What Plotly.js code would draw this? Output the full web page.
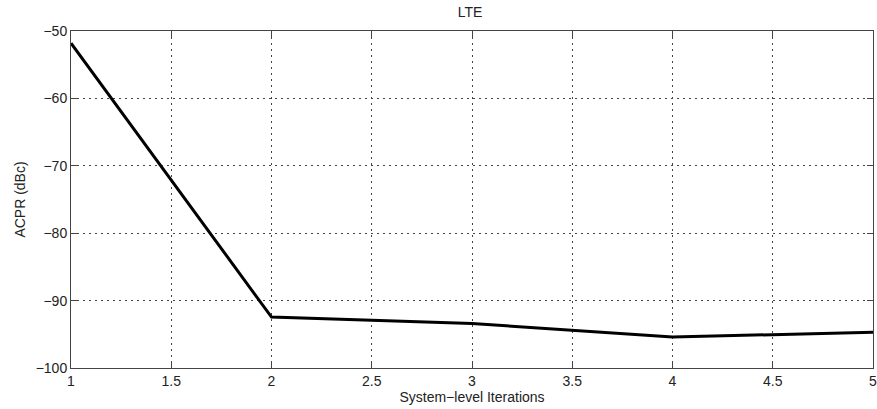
<!DOCTYPE html>
<html><head><meta charset="utf-8">
<script src="https://cdn.plot.ly/plotly-3.0.1.min.js"></script>
<style>body{margin:0;background:#fff}#c{width:877px;height:409px}</style>
</head><body><div id="c"></div>
<script>
const iterations = [1, 2, 3, 4, 5];
const acpr = [-51.8, -92.45, -93.4, -95.4, -94.7];
const xTicks = [1, 1.5, 2, 2.5, 3, 3.5, 4, 4.5, 5];
const yTicks = [-100, -90, -80, -70, -60, -50];

const font = {family: 'Liberation Sans, Arial, sans-serif', size: 14, color: '#222'};
const axisCommon = {
  showline: true, linecolor: '#444', linewidth: 1, mirror: 'ticks',
  ticks: 'inside', ticklen: 6, tickcolor: '#444',
  showgrid: true, gridcolor: '#444', griddash: '1.5px,4.5px', gridwidth: 1,
  zeroline: false, tickfont: font, ticklabeloverflow: 'allow'
};
Plotly.newPlot('c', [{
  x: iterations, y: acpr, type: 'scatter', mode: 'lines',
  line: {color: '#000', width: 3}
}], {
  width: 877, height: 409,
  margin: {l: 71, r: 4, t: 31, b: 41},
  paper_bgcolor: '#fff', plot_bgcolor: '#fff',
  showlegend: false,
  title: {text: 'LTE', font: font, x: 0.536, xanchor: 'center', y: 0.97, yanchor: 'middle'},
  xaxis: Object.assign({}, axisCommon, {
    range: [1, 5], tickvals: xTicks, ticktext: xTicks.map(String),
    title: {text: 'System\u2212level Iterations', font: font, standoff: 4}
  }),
  yaxis: Object.assign({}, axisCommon, {
    range: [-100, -50], tickvals: yTicks,
    title: {text: 'ACPR (dBc)', font: font, standoff: 6}
  })
}, {displayModeBar: false, staticPlot: true});
</script></body></html>
